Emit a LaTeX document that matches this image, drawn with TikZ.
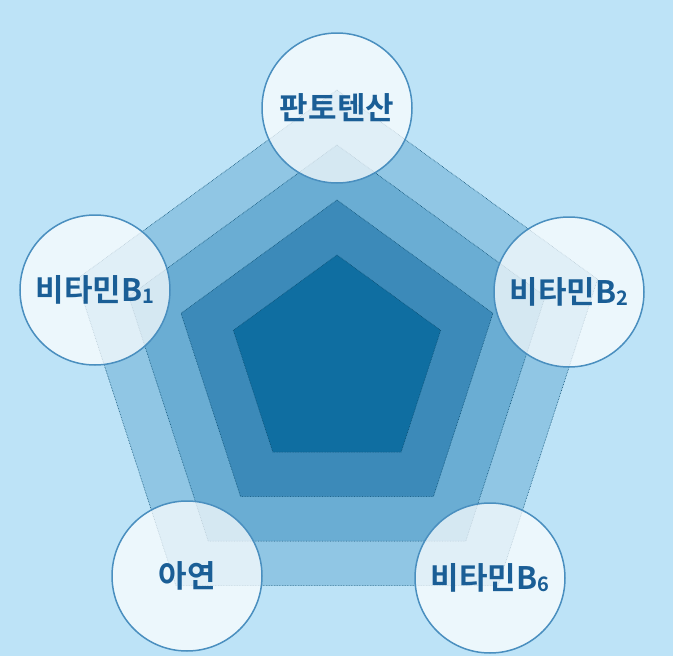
\documentclass[tikz,border=0pt]{standalone}
\usepackage{fontspec}
\newfontfamily\kr{Noto Sans CJK KR Bold}
\definecolor{bg}{HTML}{BDE3F7}
\definecolor{p1}{HTML}{90C6E4}
\definecolor{p2}{HTML}{6AADD3}
\definecolor{p3}{HTML}{3C8AB9}
\definecolor{p4}{HTML}{0F6EA1}
\definecolor{cb}{HTML}{4A8FBF}
\definecolor{tx}{HTML}{1A5E96}
\begin{document}
\begin{tikzpicture}[x=1pt,y=-1pt,
  band/.style={draw=p4!70!black,densely dotted,line width=0.6pt},
  bubble/.style={circle,draw=cb,line width=1.5pt,fill=white,fill opacity=0.72,text opacity=1,minimum size=150pt,inner sep=0pt,text=tx,font=\kr\fontsize{31}{31}\selectfont},
  sub/.style={}]
\fill[bg] (0,0) rectangle (673,656);
\useasboundingbox (0,0) rectangle (673,656);
\foreach \r/\col in {274/p1,219/p2,164/p3,109/p4}{
  \draw[band,fill=\col]
    ({337+\r*cos(90)},{364-\r*sin(90)}) --
    ({337+\r*cos(162)},{364-\r*sin(162)}) --
    ({337+\r*cos(234)},{364-\r*sin(234)}) --
    ({337+\r*cos(306)},{364-\r*sin(306)}) --
    ({337+\r*cos(18)},{364-\r*sin(18)}) -- cycle;
}
\newcommand\sbd[1]{\raisebox{-0.05em}{\fontsize{20}{20}\selectfont #1}}
\node[bubble] (n1) at (337,108) {판토텐산};
\node[bubble] (n2) at (95,290) {비타민B\sbd{1}};
\node[bubble] (n3) at (569,292) {비타민B\sbd{2}};
\node[bubble] (n4) at (187,576) {아연};
\node[bubble] (n5) at (490,578) {비타민B\sbd{6}};
\end{tikzpicture}
\end{document}
